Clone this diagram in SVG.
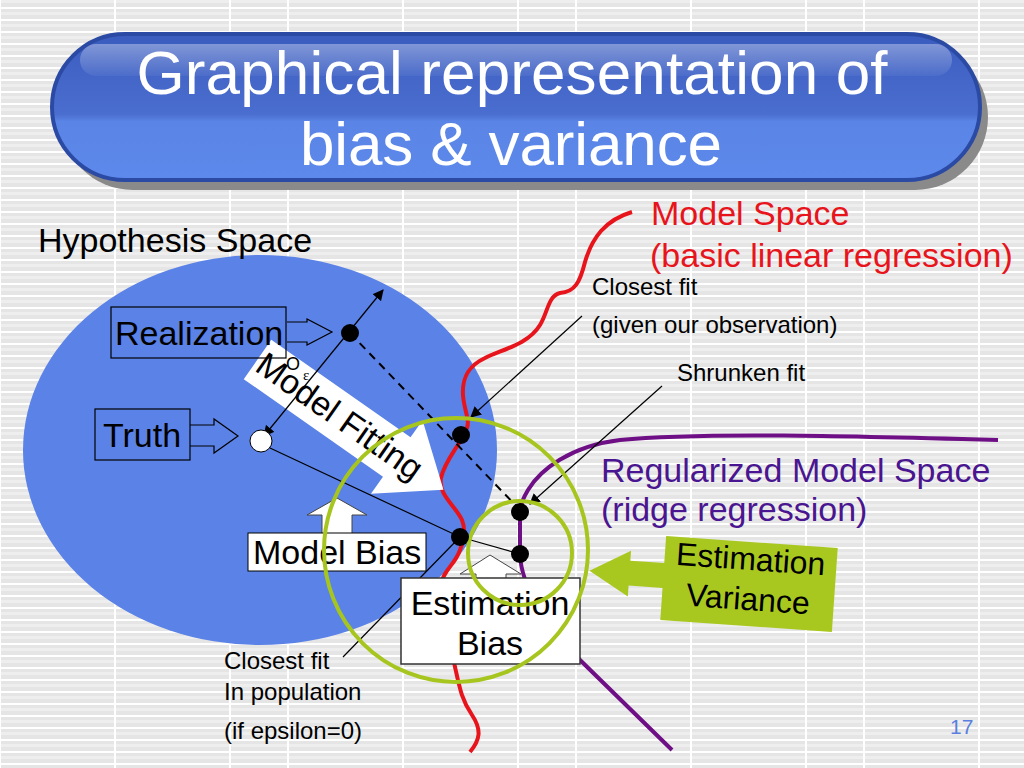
<svg xmlns="http://www.w3.org/2000/svg" width="1024" height="768" viewBox="0 0 1024 768">
<defs>
<pattern id="bg" x="0" y="7" width="288" height="12" patternUnits="userSpaceOnUse">
<rect width="288" height="12" fill="#e5e5e5"/>
<rect y="5" width="288" height="3" fill="#eeeeee"/>
<rect y="0" width="288" height="2" fill="#ffffff"/>
<rect x="114" width="2" height="12" fill="#ffffff"/>
<rect x="229" width="2" height="12" fill="#ffffff"/>
<rect x="287" width="1" height="12" fill="#ffffff"/>
<rect x="0" width="1" height="12" fill="#ffffff"/>
</pattern>
<linearGradient id="pill" x1="0" y1="0" x2="0" y2="1">
<stop offset="0" stop-color="#3b5cbf"/>
<stop offset="0.55" stop-color="#4a6ecf"/>
<stop offset="0.6" stop-color="#5a85e6"/>
<stop offset="1" stop-color="#5d89ec"/>
</linearGradient>
<linearGradient id="gloss" x1="0" y1="0" x2="0" y2="1">
<stop offset="0" stop-color="#ffffff" stop-opacity="0.35"/>
<stop offset="1" stop-color="#ffffff" stop-opacity="0.05"/>
</linearGradient>
<marker id="ah" viewBox="0 0 10 10" refX="9" refY="5" markerWidth="11" markerHeight="11" markerUnits="userSpaceOnUse" orient="auto-start-reverse">
<path d="M0,0 L10,5 L0,10 Z" fill="#000"/>
</marker>
<style>
text{font-family:"Liberation Sans",Arial,sans-serif;}
.big{font-size:34px;fill:#000;}
.small{font-size:24px;fill:#000;}
.thin{stroke:#000;stroke-width:1.2;fill:none;}
.dot{fill:#000;}
.ring{fill:none;stroke:#a6c51e;stroke-width:4;}
.outline{fill:none;stroke:#000;stroke-width:1.2;}
</style>
</defs>
<rect width="1024" height="768" fill="url(#bg)"/>

<g id="title">
<rect x="60" y="44" width="928" height="146" rx="73" fill="#8a8a8a"/>
<rect x="52" y="34" width="928" height="146" rx="73" fill="url(#pill)" stroke="#2b4aa3" stroke-width="4"/>
<rect x="80" y="44" width="872" height="32" rx="16" fill="url(#gloss)"/>
<text x="512" y="94" font-size="62" fill="#fff" text-anchor="middle" textLength="751">Graphical representation of</text>
<text x="511" y="165" font-size="62" fill="#fff" text-anchor="middle" textLength="422">bias &amp; variance</text>
</g>

<g id="hypothesis-space">
<ellipse cx="260" cy="450" rx="237" ry="195" fill="#5b82e6"/>
<text class="big" x="38" y="252">Hypothesis Space</text>
</g>

<g id="model-space">
<path d="M632,212 C605,220 592,238 585,262 C580,282 575,292 560,293 C548,296 548,312 540,325 C528,345 500,350 485,358 C468,366 462,378 463,395 C464,412 472,422 465,432 C458,448 445,460 441,478 C438,495 455,505 462,520 C466,530 464,540 460,550 C455,565 443,570 441,585 C437,612 450,640 455,667 C460,690 462,700 472,715 C482,730 480,740 470,752" fill="none" stroke="#e8141c" stroke-width="4"/>
<text x="651" y="225" font-size="34" fill="#e8141c">Model Space</text>
<text x="650" y="267" font-size="34" fill="#e8141c">(basic linear regression)</text>
</g>

<g id="regularized-space">
<path d="M998,440 C850,436 700,432 620,440 C570,446 540,470 528,490 C522,500 520,506 520,512 L520,554 C521,585 545,625 580,660 L672,750" fill="none" stroke="#6e0f86" stroke-width="4"/>
<text x="601" y="482" font-size="34" fill="#4a1590">Regularized Model Space</text>
<text x="601" y="521" font-size="34" fill="#4a1590">(ridge regression)</text>
</g>

<g id="model-fitting">
<g transform="translate(257.5,359.5) rotate(35)">
<path d="M0,-24 L170,-24 L170,-45 L227,0 L170,45 L170,24 L0,24 Z" fill="#ffffff"/>
<text x="100" y="11" font-size="34" text-anchor="middle" fill="#000">Model Fitting</text>
</g>
<text x="286" y="370" font-size="18" fill="#000">O</text>
<text x="303" y="380" font-size="15" fill="#000" style="font-family:'Liberation Serif',serif">ε</text>
</g>

<g id="connectors">
<line x1="350" y1="333" x2="521" y2="511" stroke="#000" stroke-width="2" stroke-dasharray="8,6"/>
<line x1="383" y1="290" x2="264" y2="436" class="thin" marker-start="url(#ah)" marker-end="url(#ah)"/>
<polyline points="270,448 460,537 520,554" class="thin"/>
<line x1="343" y1="657" x2="456" y2="541" class="thin"/>
<line x1="582" y1="316" x2="471" y2="417" class="thin" marker-end="url(#ah)"/>
<line x1="662" y1="386" x2="530" y2="504" class="thin" marker-end="url(#ah)"/>
</g>

<g id="realization">
<rect x="111" y="307" width="175" height="51" class="outline"/>
<text class="big" x="115" y="345">Realization</text>
<path d="M287,322 L307,322 L307,319 L332,332 L307,345 L307,342 L287,342" class="outline"/>
</g>

<g id="truth">
<rect x="95" y="409" width="95" height="51" class="outline"/>
<text class="big" x="103" y="447">Truth</text>
<path d="M190,425 L214,425 L214,419 L238,436 L214,453 L214,446 L190,446" class="outline"/>
</g>

<g id="model-bias">
<path d="M322,533 L322,515 L307,515 L337,498 L367,515 L352,515 L352,533" fill="#fff" stroke="#444" stroke-width="1"/>
<rect x="248" y="533" width="178" height="38" fill="#fff" stroke="#000" stroke-width="1"/>
<text class="big" x="253" y="564">Model Bias</text>
</g>

<g id="estimation-bias">
<path d="M476,580 L476,574 L460,574 L490,555 L521,574 L506,574 L506,580" fill="#fff" stroke="#444" stroke-width="1"/>
<rect x="401" y="578" width="179" height="86" fill="#fff" stroke="#333" stroke-width="1.5"/>
<text class="big" x="490" y="615" text-anchor="middle">Estimation</text>
<text class="big" x="490" y="655" text-anchor="middle">Bias</text>
</g>

<g id="variance-rings">
<circle cx="456" cy="550" r="132" class="ring"/>
<circle cx="520" cy="553" r="52" class="ring"/>
</g>

<g id="points">
<circle cx="350" cy="333" r="9" class="dot"/>
<circle cx="261" cy="441" r="11" fill="#fff" stroke="#000" stroke-width="1"/>
<circle cx="461" cy="435" r="9" class="dot"/>
<circle cx="460" cy="537" r="9" class="dot"/>
<circle cx="520" cy="512" r="9" class="dot"/>
<circle cx="520" cy="554" r="9" class="dot"/>
</g>

<g id="labels">
<text class="small" x="592" y="295">Closest fit</text>
<text class="small" x="592" y="333">(given our observation)</text>
<text class="small" x="677" y="381">Shrunken fit</text>
<text class="small" x="224" y="669">Closest fit</text>
<text class="small" x="224" y="700">In population</text>
<text class="small" x="224" y="739">(if epsilon=0)</text>
</g>

<g id="estimation-variance">
<g transform="translate(749,584) rotate(4)">
<path d="M-86,-42 L86,-42 L86,42 L-86,42 L-86,10 L-120,10 L-120,21 L-160,-2 L-120,-25 L-120,-15 L-86,-15 Z" fill="#a9c81f"/>
<text x="0" y="-14" font-size="32" text-anchor="middle" fill="#000">Estimation</text>
<text x="0" y="26" font-size="32" text-anchor="middle" fill="#000">Variance</text>
</g>
</g>

<text x="950" y="734" font-size="21" fill="#5a7fe0">17</text>
</svg>
